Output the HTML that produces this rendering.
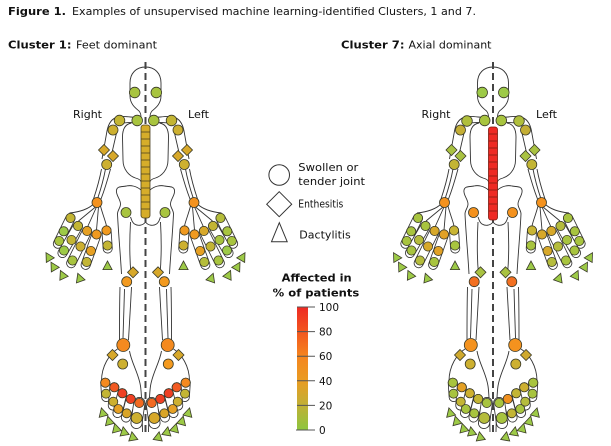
<!DOCTYPE html>
<html><head><meta charset="utf-8">
<style>
html,body{margin:0;padding:0;background:#fff;}
svg{display:block;}
text{font-family:"DejaVu Sans","Liberation Sans",sans-serif;fill:#111;}
</style></head><body>
<svg width="611" height="446" viewBox="0 0 611 446" xmlns="http://www.w3.org/2000/svg">
<defs>
<linearGradient id="cb" x1="0" y1="0" x2="0" y2="1">
<stop offset="0" stop-color="#ee2a24"/>
<stop offset="0.2" stop-color="#f2561f"/>
<stop offset="0.4" stop-color="#f5851f"/>
<stop offset="0.6" stop-color="#e99c22"/>
<stop offset="0.8" stop-color="#c0b036"/>
<stop offset="1" stop-color="#8dc63f"/>
</linearGradient>
<path id="tri" d="M0 -5 L4.6 3.6 L-4.6 3.6Z" stroke="#3a3a28" stroke-width="0.8"/>
<g id="half" fill="none" stroke="#333" stroke-width="0.9">
 <path d="M0 67 C-9 67 -15.5 73 -15.5 83 L-15.5 96 C-15.5 104 -10 108 -6.5 111 C-4.8 113 -4.5 115 -4.5 117"/>
 <path d="M-4.5 117 C-10 118.5 -17 116 -25 116.5 C-33 117 -37 123 -38.5 131 L-43.5 159"/>
 <path d="M-4.5 121 C-10 123 -16 122 -22 123"/>
 <path d="M-29 133 C-31 142 -33 150 -35 159"/>
 <path d="M-44 169 C-46 180 -49 190 -52 199"/>
 <path d="M-40 169 C-42 180 -45 190 -48 199"/>
 <path d="M-35 169 C-38 180 -41 190 -44.5 199"/>
 <path d="M-14 123 C-20 124 -23 129 -23 137 L-22.5 160 C-22.5 170 -16 176 -10 178 C-6.5 179 -4.5 180 -4.5 182"/>
 <path d="M-4.5 190 C-9 186 -15 185 -19 186 C-24 187 -28 186 -29 190 C-30 195 -25 199 -25 204 C-25 208 -28 210 -28 214"/>
 <path d="M0 222 C-3 226 -8 226 -11 224 C-14 222 -14 219 -15 217"/>
 <path d="M-28 214 C-27 235 -25 255 -24 274"/>
 <path d="M-15 222 C-16 240 -16 258 -14.5 274"/>
 <path d="M-25.5 287 C-26 305 -26 325 -26 340"/>
 <path d="M-14 287 C-15 305 -16 325 -17 340"/>
 <path d="M-21 289 C-21.5 305 -22 325 -22.5 338"/>
 <path d="M-28 349 C-36 354 -44 366 -44 381 L-43.5 394"/>
 <path d="M-16 351 C-14 363 -7 373 -5 386 C-3.5 396 -3.5 410 -3 432"/>
 <path d="M-52 204 C-58 210 -67 212 -76 213"/>
 <path d="M-45 206 C-43 214 -40 221 -39 226"/>
 <path d="M-49 207 L-58 227 M-50 207 L-67 221 M-47 207 L-49 230"/>
 <g stroke-linecap="round">
  <path d="M-75 218 L-87.6 243.7" stroke="#333" stroke-width="10"/><path d="M-75 218 L-87.6 243.7" stroke="#fff" stroke-width="8.3"/>
  <path d="M-67.5 226 L-83 253" stroke="#333" stroke-width="10"/><path d="M-67.5 226 L-83 253" stroke="#fff" stroke-width="8.3"/>
  <path d="M-58.4 231 L-74.3 263.2" stroke="#333" stroke-width="10"/><path d="M-58.4 231 L-74.3 263.2" stroke="#fff" stroke-width="8.3"/>
  <path d="M-49 234.5 L-59.8 264.8" stroke="#333" stroke-width="10"/><path d="M-49 234.5 L-59.8 264.8" stroke="#fff" stroke-width="8.3"/>
  <path d="M-39 230.5 L-37.8 248.5" stroke="#333" stroke-width="10"/><path d="M-39 230.5 L-37.8 248.5" stroke="#fff" stroke-width="8.3"/>
  <path d="M-40.2 382.7 L-39.3 397" stroke="#333" stroke-width="10"/><path d="M-40.2 382.7 L-39.3 397" stroke="#fff" stroke-width="8.3"/>
  <path d="M-31.2 387.3 L-32.7 405.5" stroke="#333" stroke-width="10"/><path d="M-31.2 387.3 L-32.7 405.5" stroke="#fff" stroke-width="8.3"/>
  <path d="M-23.2 393.3 L-28 413" stroke="#333" stroke-width="10"/><path d="M-23.2 393.3 L-28 413" stroke="#fff" stroke-width="8.3"/>
  <path d="M-14.8 399 L-19.5 417.5" stroke="#333" stroke-width="10"/><path d="M-14.8 399 L-19.5 417.5" stroke="#fff" stroke-width="8.3"/>
  <path d="M-6.2 403 L-9 423" stroke="#333" stroke-width="12"/><path d="M-6.2 403 L-9 423" stroke="#fff" stroke-width="10.3"/>
 </g>
</g>
<g id="body"><use href="#half"/><use href="#half" transform="scale(-1,1)"/>
<line x1="0" y1="62" x2="0" y2="432" stroke="#444" stroke-width="2" stroke-dasharray="7 4"/>
</g>
</defs>
<rect width="611" height="446" fill="#fff"/>

<text x="8" y="15" font-size="10.5" font-weight="bold" textLength="58" lengthAdjust="spacingAndGlyphs">Figure 1.</text>
<text x="72" y="15" font-size="10.5" textLength="404" lengthAdjust="spacingAndGlyphs">Examples of unsupervised machine learning-identified Clusters, 1 and 7.</text>

<text x="8" y="48.5" font-size="11" font-weight="bold" textLength="63.5" lengthAdjust="spacingAndGlyphs">Cluster 1:</text>
<text x="76" y="48.5" font-size="11" textLength="81" lengthAdjust="spacingAndGlyphs">Feet dominant</text>
<text x="341" y="48.5" font-size="11" font-weight="bold" textLength="63.5" lengthAdjust="spacingAndGlyphs">Cluster 7:</text>
<text x="408.5" y="48.5" font-size="11" textLength="83" lengthAdjust="spacingAndGlyphs">Axial dominant</text>

<text x="73" y="118" font-size="10.5" textLength="29" lengthAdjust="spacingAndGlyphs">Right</text>
<text x="188" y="118" font-size="10.5" textLength="21" lengthAdjust="spacingAndGlyphs">Left</text>
<text x="421.5" y="118" font-size="10.5" textLength="29" lengthAdjust="spacingAndGlyphs">Right</text>
<text x="536" y="118" font-size="10.5" textLength="21" lengthAdjust="spacingAndGlyphs">Left</text>

<!-- Legend -->
<g fill="#fff" stroke="#333" stroke-width="1">
<circle cx="279.2" cy="175" r="10.3"/>
<path d="M279.2 191.7 L291.7 204.2 L279.2 216.7 L266.7 204.2Z"/>
<path d="M279.3 222.7 L287.2 241.7 L271.5 241.7Z"/>
</g>
<text x="298.3" y="171" font-size="10.5" textLength="60" lengthAdjust="spacingAndGlyphs">Swollen or</text>
<text x="298.3" y="185" font-size="10.5" textLength="66.7" lengthAdjust="spacingAndGlyphs">tender joint</text>
<text x="298.3" y="207.5" font-size="10.5" textLength="45" lengthAdjust="spacingAndGlyphs">Enthesitis</text>
<text x="299.3" y="238.5" font-size="10.5" textLength="51.4" lengthAdjust="spacingAndGlyphs">Dactylitis</text>
<text x="281.7" y="281.5" font-size="11" font-weight="bold" textLength="70" lengthAdjust="spacingAndGlyphs">Affected in</text>
<text x="272.7" y="296.5" font-size="11" font-weight="bold" textLength="86.6" lengthAdjust="spacingAndGlyphs">% of patients</text>
<rect x="297" y="307" width="11" height="123" fill="url(#cb)"/>
<g stroke="#555" stroke-width="1">
<line x1="297" y1="307" x2="315" y2="307"/>
<line x1="297" y1="331.6" x2="315" y2="331.6"/>
<line x1="297" y1="356.2" x2="315" y2="356.2"/>
<line x1="297" y1="380.8" x2="315" y2="380.8"/>
<line x1="297" y1="405.4" x2="315" y2="405.4"/>
<line x1="296" y1="430" x2="315" y2="430"/>
</g>
<g font-size="10.5">
<text x="319" y="311">100</text>
<text x="319" y="335.6">80</text>
<text x="319" y="360.2">60</text>
<text x="319" y="384.8">40</text>
<text x="319" y="409.4">20</text>
<text x="319" y="434">0</text>
</g>

<!-- FIGURE 1 -->
<g transform="translate(145.5 0)">
<use href="#body"/>
<rect x="-4.5" y="125" width="9" height="93" rx="2.5" fill="#d6ad2a" stroke="#4a4020" stroke-width="0.8"/>
<path d="M-4.5 132h9M-4.5 139h9M-4.5 146h9M-4.5 153h9M-4.5 160h9M-4.5 167h9M-4.5 174h9M-4.5 181h9M-4.5 188h9M-4.5 195h9M-4.5 202h9M-4.5 209h9" stroke="#4a4020" stroke-width="0.8"/>
<g stroke="#3a3a28" stroke-width="0.8">
<circle cx="-10.8" cy="92.5" r="5.3" fill="#a8c43f"/>
<circle cx="-26" cy="120.5" r="5.3" fill="#c3b534"/>
<circle cx="-8.3" cy="120.5" r="5.3" fill="#a8c43f"/>
<circle cx="-32.5" cy="130" r="5" fill="#cdb030"/>
<path d="M-41.5 144.5L-36 150L-41.5 155.5L-47 150Z" fill="#d7a82a"/>
<path d="M-32.5 150.5L-27 156L-32.5 161.5L-38 156Z" fill="#d7a82a"/>
<circle cx="-38.8" cy="164.5" r="5" fill="#cdb030"/>
<circle cx="-48.5" cy="202.5" r="5" fill="#f4921e"/>
<circle cx="-19.5" cy="212.5" r="5" fill="#a8c43f"/>
<circle cx="-75" cy="218" r="4.6" fill="#c3b534"/>
<circle cx="-67.5" cy="226" r="4.6" fill="#c3b534"/>
<circle cx="-58.4" cy="231" r="4.6" fill="#e6a024"/>
<circle cx="-49" cy="234.5" r="4.6" fill="#f09a20"/>
<circle cx="-39" cy="230.5" r="4.6" fill="#f09a20"/>
<circle cx="-81.8" cy="231.3" r="4.6" fill="#9dca47"/>
<circle cx="-74" cy="240" r="4.6" fill="#c3b534"/>
<circle cx="-65" cy="246.5" r="4.6" fill="#cdb030"/>
<circle cx="-54.6" cy="251" r="4.6" fill="#e6a024"/>
<circle cx="-38" cy="245.5" r="4.6" fill="#c3b534"/>
<circle cx="-86.3" cy="241" r="4.6" fill="#a8c43f"/>
<circle cx="-81.5" cy="250.5" r="4.6" fill="#9dca47"/>
<circle cx="-73" cy="260.5" r="4.6" fill="#a8c43f"/>
<circle cx="-58.8" cy="262" r="4.6" fill="#c3b534"/>
<use href="#tri" transform="translate(-97 257) rotate(-30)" fill="#9dca47"/>
<use href="#tri" transform="translate(-92 266.5) rotate(-30)" fill="#9dca47"/>
<use href="#tri" transform="translate(-83 275) rotate(-25)" fill="#9dca47"/>
<use href="#tri" transform="translate(-66 278) rotate(-20)" fill="#9dca47"/>
<use href="#tri" transform="translate(-38 266)" fill="#9dca47"/>
<path d="M-12.5 266.8L-7 272.3L-12.5 277.8L-18 272.3Z" fill="#d7a82a"/>
<circle cx="-18.8" cy="281.7" r="5" fill="#f29a20"/>
<circle cx="-22.2" cy="345" r="6.5" fill="#f48a1f"/>
<path d="M-33 349.5L-27.5 355L-33 360.5L-38.5 355Z" fill="#d7a82a"/>
<circle cx="-22.8" cy="364" r="5" fill="#cdb030"/>
<circle cx="-40.2" cy="382.7" r="4.6" fill="#f58a1f"/>
<circle cx="-31.2" cy="387.3" r="4.6" fill="#f25a22"/>
<circle cx="-23.2" cy="393.3" r="4.6" fill="#ef4023"/>
<circle cx="-14.8" cy="399" r="4.6" fill="#ef4023"/>
<circle cx="-6.2" cy="403" r="4.6" fill="#f36a22"/>
<circle cx="-39.5" cy="393.7" r="4.5" fill="#c3b534"/>
<circle cx="-32.2" cy="401.7" r="4.5" fill="#cdb030"/>
<circle cx="-27.2" cy="409" r="4.5" fill="#e6a024"/>
<circle cx="-18.8" cy="413.3" r="4.5" fill="#d9a528"/>
<circle cx="-8.8" cy="418" r="5.5" fill="#cdb030"/>
<use href="#tri" transform="translate(-42.8 412.7) rotate(-15)" fill="#9dca47"/>
<use href="#tri" transform="translate(-36.5 421) rotate(-15)" fill="#9dca47"/>
<use href="#tri" transform="translate(-29.5 428.3) rotate(-15)" fill="#9dca47"/>
<use href="#tri" transform="translate(-21.5 431.7) rotate(-10)" fill="#9dca47"/>
<use href="#tri" transform="translate(-12.8 436.7) rotate(-10)" fill="#9dca47"/>
</g>
<g transform="scale(-1 1)" stroke="#3a3a28" stroke-width="0.8">
<circle cx="-10.8" cy="92.5" r="5.3" fill="#a8c43f"/>
<circle cx="-26" cy="120.5" r="5.3" fill="#c3b534"/>
<circle cx="-8.3" cy="120.5" r="5.3" fill="#a8c43f"/>
<circle cx="-32.5" cy="130" r="5" fill="#cdb030"/>
<path d="M-41.5 144.5L-36 150L-41.5 155.5L-47 150Z" fill="#d7a82a"/>
<path d="M-32.5 150.5L-27 156L-32.5 161.5L-38 156Z" fill="#d7a82a"/>
<circle cx="-38.8" cy="164.5" r="5" fill="#cdb030"/>
<circle cx="-48.5" cy="202.5" r="5" fill="#f4921e"/>
<circle cx="-19.5" cy="212.5" r="5" fill="#a8c43f"/>
<circle cx="-75" cy="218" r="4.6" fill="#b5bd3a"/>
<circle cx="-67.5" cy="226" r="4.6" fill="#c3b534"/>
<circle cx="-58.4" cy="231" r="4.6" fill="#d7a82a"/>
<circle cx="-49" cy="234.5" r="4.6" fill="#f09a20"/>
<circle cx="-39" cy="230.5" r="4.6" fill="#f09a20"/>
<circle cx="-81.8" cy="231.3" r="4.6" fill="#a8c43f"/>
<circle cx="-74" cy="240" r="4.6" fill="#a8c43f"/>
<circle cx="-65" cy="246.5" r="4.6" fill="#c3b534"/>
<circle cx="-54.6" cy="251" r="4.6" fill="#e6a024"/>
<circle cx="-38" cy="245.5" r="4.6" fill="#cdb030"/>
<circle cx="-86.3" cy="241" r="4.6" fill="#a8c43f"/>
<circle cx="-81.5" cy="250.5" r="4.6" fill="#9dca47"/>
<circle cx="-73" cy="260.5" r="4.6" fill="#a8c43f"/>
<circle cx="-58.8" cy="262" r="4.6" fill="#b5bd3a"/>
<use href="#tri" transform="translate(-97 257) rotate(-30)" fill="#9dca47"/>
<use href="#tri" transform="translate(-92 266.5) rotate(-30)" fill="#9dca47"/>
<use href="#tri" transform="translate(-83 275) rotate(-25)" fill="#9dca47"/>
<use href="#tri" transform="translate(-66 278) rotate(-20)" fill="#9dca47"/>
<use href="#tri" transform="translate(-38 266)" fill="#9dca47"/>
<path d="M-12.5 266.8L-7 272.3L-12.5 277.8L-18 272.3Z" fill="#d7a82a"/>
<circle cx="-18.8" cy="281.7" r="5" fill="#f29a20"/>
<circle cx="-22.2" cy="345" r="6.5" fill="#f48a1f"/>
<path d="M-33 349.5L-27.5 355L-33 360.5L-38.5 355Z" fill="#d7a82a"/>
<circle cx="-22.8" cy="364" r="5" fill="#f49a1f"/>
<circle cx="-40.2" cy="382.7" r="4.6" fill="#f58a1f"/>
<circle cx="-31.2" cy="387.3" r="4.6" fill="#f25a22"/>
<circle cx="-23.2" cy="393.3" r="4.6" fill="#ef4023"/>
<circle cx="-14.8" cy="399" r="4.6" fill="#ef4023"/>
<circle cx="-6.2" cy="403" r="4.6" fill="#f36a22"/>
<circle cx="-39.5" cy="393.7" r="4.5" fill="#c3b534"/>
<circle cx="-32.2" cy="401.7" r="4.5" fill="#cdb030"/>
<circle cx="-27.2" cy="409" r="4.5" fill="#e6a024"/>
<circle cx="-18.8" cy="413.3" r="4.5" fill="#d9a528"/>
<circle cx="-8.8" cy="418" r="5.5" fill="#d7a82a"/>
<use href="#tri" transform="translate(-42.8 412.7) rotate(-15)" fill="#9dca47"/>
<use href="#tri" transform="translate(-36.5 421) rotate(-15)" fill="#9dca47"/>
<use href="#tri" transform="translate(-29.5 428.3) rotate(-15)" fill="#9dca47"/>
<use href="#tri" transform="translate(-21.5 431.7) rotate(-10)" fill="#9dca47"/>
<use href="#tri" transform="translate(-12.8 436.7) rotate(-10)" fill="#9dca47"/>
</g>
</g>

<!-- FIGURE 7 -->
<g transform="translate(493 0)">
<use href="#body"/>
<rect x="-4.5" y="127" width="9" height="93" rx="2.5" fill="#ee2a24" stroke="#7a1a10" stroke-width="0.8"/>
<path d="M-4.5 134h9M-4.5 141h9M-4.5 148h9M-4.5 155h9M-4.5 162h9M-4.5 169h9M-4.5 176h9M-4.5 183h9M-4.5 190h9M-4.5 197h9M-4.5 204h9M-4.5 211h9" stroke="#7a1a10" stroke-width="0.8"/>
<g stroke="#3a3a28" stroke-width="0.8">
<circle cx="-10.8" cy="92.5" r="5.3" fill="#9dca47"/>
<circle cx="-26" cy="121" r="5.3" fill="#b0bf3c"/>
<circle cx="-8.3" cy="120.5" r="5.3" fill="#a8c43f"/>
<circle cx="-32.5" cy="130" r="5" fill="#c4ae35"/>
<path d="M-41.5 144.5L-36 150L-41.5 155.5L-47 150Z" fill="#a9c241"/>
<path d="M-32.5 150.5L-27 156L-32.5 161.5L-38 156Z" fill="#a9c241"/>
<circle cx="-38.8" cy="164.5" r="5" fill="#c3b534"/>
<circle cx="-48.5" cy="202.5" r="5" fill="#f4921e"/>
<circle cx="-19.5" cy="212.5" r="5" fill="#f4921e"/>
<circle cx="-75" cy="218" r="4.6" fill="#a8c43f"/>
<circle cx="-67.5" cy="226" r="4.6" fill="#a8c43f"/>
<circle cx="-58.4" cy="231" r="4.6" fill="#d7a82a"/>
<circle cx="-49" cy="234.5" r="4.6" fill="#e1a126"/>
<circle cx="-39" cy="230.5" r="4.6" fill="#c9b534"/>
<circle cx="-81.8" cy="231.3" r="4.6" fill="#a8c43f"/>
<circle cx="-74" cy="240" r="4.6" fill="#b5bc3c"/>
<circle cx="-65" cy="246.5" r="4.6" fill="#d7a82a"/>
<circle cx="-54.6" cy="251" r="4.6" fill="#e1a126"/>
<circle cx="-38" cy="245.5" r="4.6" fill="#a8c43f"/>
<circle cx="-86.3" cy="241" r="4.6" fill="#a8c43f"/>
<circle cx="-81.5" cy="250.5" r="4.6" fill="#a8c43f"/>
<circle cx="-73" cy="260.5" r="4.6" fill="#b5bc3c"/>
<circle cx="-58.8" cy="262" r="4.6" fill="#a8c43f"/>
<use href="#tri" transform="translate(-97 257) rotate(-30)" fill="#9dca47"/>
<use href="#tri" transform="translate(-92 266.5) rotate(-30)" fill="#9dca47"/>
<use href="#tri" transform="translate(-83 275) rotate(-25)" fill="#9dca47"/>
<use href="#tri" transform="translate(-66 278) rotate(-20)" fill="#9dca47"/>
<use href="#tri" transform="translate(-38 266)" fill="#9dca47"/>
<path d="M-12.5 266.8L-7 272.3L-12.5 277.8L-18 272.3Z" fill="#a9c241"/>
<circle cx="-18.8" cy="281.7" r="5" fill="#f37021"/>
<circle cx="-22.2" cy="345" r="6.5" fill="#f4921e"/>
<path d="M-33 349.5L-27.5 355L-33 360.5L-38.5 355Z" fill="#cfa92e"/>
<circle cx="-22.8" cy="364" r="5" fill="#cdb030"/>
<circle cx="-40.2" cy="382.7" r="4.6" fill="#a8c43f"/>
<circle cx="-31.2" cy="387.3" r="4.6" fill="#e4a024"/>
<circle cx="-23.2" cy="393.3" r="4.6" fill="#cdb030"/>
<circle cx="-14.8" cy="399" r="4.6" fill="#c3b534"/>
<circle cx="-6.2" cy="403" r="4.6" fill="#a8c43f"/>
<circle cx="-39.5" cy="393.7" r="4.5" fill="#a8c43f"/>
<circle cx="-32.2" cy="401.7" r="4.5" fill="#c3b534"/>
<circle cx="-27.2" cy="409" r="4.5" fill="#a8c43f"/>
<circle cx="-18.8" cy="413.3" r="4.5" fill="#a8c43f"/>
<circle cx="-8.8" cy="418" r="5.5" fill="#b5bc3c"/>
<use href="#tri" transform="translate(-42.8 412.7) rotate(-15)" fill="#9dca47"/>
<use href="#tri" transform="translate(-36.5 421) rotate(-15)" fill="#9dca47"/>
<use href="#tri" transform="translate(-29.5 428.3) rotate(-15)" fill="#9dca47"/>
<use href="#tri" transform="translate(-21.5 431.7) rotate(-10)" fill="#9dca47"/>
<use href="#tri" transform="translate(-12.8 436.7) rotate(-10)" fill="#9dca47"/>
</g>
<g transform="scale(-1 1)" stroke="#3a3a28" stroke-width="0.8">
<circle cx="-10.8" cy="92.5" r="5.3" fill="#9dca47"/>
<circle cx="-26" cy="121" r="5.3" fill="#b0bf3c"/>
<circle cx="-8.3" cy="120.5" r="5.3" fill="#a8c43f"/>
<circle cx="-32.5" cy="130" r="5" fill="#c4ae35"/>
<path d="M-41.5 144.5L-36 150L-41.5 155.5L-47 150Z" fill="#a9c241"/>
<path d="M-32.5 150.5L-27 156L-32.5 161.5L-38 156Z" fill="#a9c241"/>
<circle cx="-38.8" cy="164.5" r="5" fill="#c3b534"/>
<circle cx="-48.5" cy="202.5" r="5" fill="#f4921e"/>
<circle cx="-19.5" cy="212.5" r="5" fill="#f4921e"/>
<circle cx="-75" cy="218" r="4.6" fill="#a8c43f"/>
<circle cx="-67.5" cy="226" r="4.6" fill="#b5bc3c"/>
<circle cx="-58.4" cy="231" r="4.6" fill="#d7a82a"/>
<circle cx="-49" cy="234.5" r="4.6" fill="#d7a82a"/>
<circle cx="-39" cy="230.5" r="4.6" fill="#c9b534"/>
<circle cx="-81.8" cy="231.3" r="4.6" fill="#a8c43f"/>
<circle cx="-74" cy="240" r="4.6" fill="#a8c43f"/>
<circle cx="-65" cy="246.5" r="4.6" fill="#b5bc3c"/>
<circle cx="-54.6" cy="251" r="4.6" fill="#d7a82a"/>
<circle cx="-38" cy="245.5" r="4.6" fill="#a8c43f"/>
<circle cx="-86.3" cy="241" r="4.6" fill="#a8c43f"/>
<circle cx="-81.5" cy="250.5" r="4.6" fill="#a8c43f"/>
<circle cx="-73" cy="260.5" r="4.6" fill="#a8c43f"/>
<circle cx="-58.8" cy="262" r="4.6" fill="#b5bc3c"/>
<use href="#tri" transform="translate(-97 257) rotate(-30)" fill="#9dca47"/>
<use href="#tri" transform="translate(-92 266.5) rotate(-30)" fill="#9dca47"/>
<use href="#tri" transform="translate(-83 275) rotate(-25)" fill="#9dca47"/>
<use href="#tri" transform="translate(-66 278) rotate(-20)" fill="#9dca47"/>
<use href="#tri" transform="translate(-38 266)" fill="#9dca47"/>
<path d="M-12.5 266.8L-7 272.3L-12.5 277.8L-18 272.3Z" fill="#a9c241"/>
<circle cx="-18.8" cy="281.7" r="5" fill="#f37021"/>
<circle cx="-22.2" cy="345" r="6.5" fill="#f4921e"/>
<path d="M-33 349.5L-27.5 355L-33 360.5L-38.5 355Z" fill="#cfa92e"/>
<circle cx="-22.8" cy="364" r="5" fill="#cdb030"/>
<circle cx="-40.2" cy="382.7" r="4.6" fill="#a8c43f"/>
<circle cx="-31.2" cy="387.3" r="4.6" fill="#cdb030"/>
<circle cx="-23.2" cy="393.3" r="4.6" fill="#c3b534"/>
<circle cx="-14.8" cy="399" r="4.6" fill="#f0901f"/>
<circle cx="-6.2" cy="403" r="4.6" fill="#a8c43f"/>
<circle cx="-39.5" cy="393.7" r="4.5" fill="#a8c43f"/>
<circle cx="-32.2" cy="401.7" r="4.5" fill="#b5bc3c"/>
<circle cx="-27.2" cy="409" r="4.5" fill="#a8c43f"/>
<circle cx="-18.8" cy="413.3" r="4.5" fill="#c3b534"/>
<circle cx="-8.8" cy="418" r="5.5" fill="#a8c43f"/>
<use href="#tri" transform="translate(-42.8 412.7) rotate(-15)" fill="#9dca47"/>
<use href="#tri" transform="translate(-36.5 421) rotate(-15)" fill="#9dca47"/>
<use href="#tri" transform="translate(-29.5 428.3) rotate(-15)" fill="#9dca47"/>
<use href="#tri" transform="translate(-21.5 431.7) rotate(-10)" fill="#9dca47"/>
<use href="#tri" transform="translate(-12.8 436.7) rotate(-10)" fill="#9dca47"/>
</g>
</g>
</svg>
</body></html>
